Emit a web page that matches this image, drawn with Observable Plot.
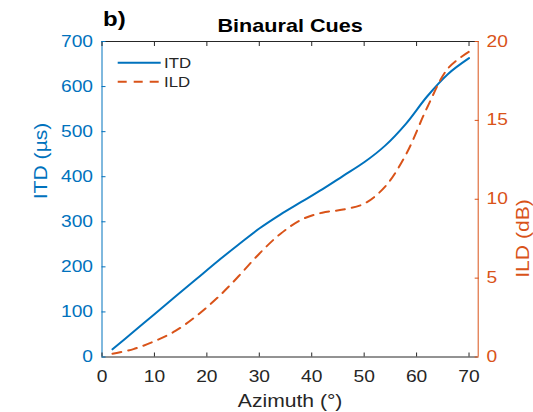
<!DOCTYPE html>
<html>
<head>
<meta charset="utf-8">
<script src="https://cdn.jsdelivr.net/npm/d3@7"></script>
<script src="https://cdn.jsdelivr.net/npm/@observablehq/plot@0.6"></script>
<style>
  html, body { margin: 0; padding: 0; background: #fff; }
  #chart { width: 533px; height: 412px; overflow: hidden; }
</style>
</head>
<body>
<div id="chart"></div>
<script>
// ---- data ----
const azimuth = [2, 6, 10, 14, 18, 22, 26, 30, 34, 38, 42, 46, 50, 54, 58, 62, 66, 70];
const itd = [17, 56, 95, 134, 173, 212, 249, 285, 316, 344, 372, 402, 432, 469, 518, 578, 628, 663];
const ild = [0.2, 0.5, 1.0, 1.65, 2.6, 3.75, 5.1, 6.55, 7.8, 8.7, 9.15, 9.35, 9.72, 10.8, 12.85, 15.8, 18.3, 19.35];

const xTicks = [0, 10, 20, 30, 40, 50, 60, 70];
const itdTicks = [0, 100, 200, 300, 400, 500, 600, 700];
const ildTicks = [0, 5, 10, 15, 20];
const xDomain = [0, 71.75];
const itdDomain = [0, 700];
const ildDomain = [0, 20];

const titleText = "Binaural Cues";
const panelText = "b)";
const xLabel = "Azimuth (°)";
const yLeftLabel = "ITD (µs)";
const yRightLabel = "ILD (dB)";
const seriesNames = ["ITD", "ILD"];

// ---- styling ----
const blue = "#0072BD";
const orange = "#D95319";
const dark = "#262626";
const font = "'Liberation Sans', Arial, Helvetica, sans-serif";
const k = itdDomain[1] / ildDomain[1]; // map ILD onto the ITD scale

const itdData = azimuth.map((a, i) => ({az: a, v: itd[i]}));
const ildData = azimuth.map((a, i) => ({az: a, v: ild[i] * k}));

const svg = Plot.plot({
  width: 533,
  height: 412,
  marginLeft: 101.5,
  marginRight: 55.3,
  marginTop: 41,
  marginBottom: 55.5,
  style: {fontFamily: font, fontSize: "16px", background: "#fff"},
  x: {domain: xDomain},
  y: {domain: itdDomain},
  marks: [
    // curves
    Plot.line(itdData, {x: "az", y: "v", stroke: blue, strokeWidth: 2, curve: "catmull-rom"}),
    Plot.line(ildData, {x: "az", y: "v", stroke: orange, strokeWidth: 2, strokeDasharray: "9,7", curve: "catmull-rom"}),
    // box lines
    Plot.ruleY([itdDomain[0]], {stroke: dark, strokeWidth: 1}),
    Plot.ruleY([itdDomain[1]], {stroke: dark, strokeWidth: 1}),
    Plot.ruleX([xDomain[0]], {stroke: blue, strokeWidth: 1}),
    Plot.ruleX([xDomain[1]], {stroke: orange, strokeWidth: 1}),
    // inward tick marks
    Plot.axisX({anchor: "bottom", ticks: xTicks, tickSize: -4, fill: "none", stroke: dark, label: null}),
    Plot.axisX({anchor: "top", ticks: xTicks, tickSize: -4, fill: "none", stroke: dark, label: null}),
    Plot.axisY({anchor: "left", ticks: itdTicks, tickSize: -4, fill: "none", stroke: blue, label: null}),
    Plot.axisY({anchor: "right", ticks: ildTicks.map(d => d * k), tickSize: -4, fill: "none", stroke: orange, label: null}),
    // tick labels
    Plot.axisX({anchor: "bottom", ticks: xTicks, tickSize: 0, tickPadding: 14, fill: dark, stroke: "none", label: null}),
    Plot.axisY({anchor: "left", ticks: itdTicks, tickSize: 0, tickPadding: 9, fill: blue, stroke: "none", label: null}),
    Plot.axisY({anchor: "right", ticks: ildTicks.map(d => d * k), tickFormat: d => String(Math.round(d / k)), tickSize: 0, tickPadding: 8.3, fill: orange, stroke: "none", label: null}),
    // axis labels, title
    Plot.text([xLabel], {text: d => d, frameAnchor: "bottom", dy: 50, lineAnchor: "bottom", fill: dark, fontSize: 17.6}),
    Plot.text([yLeftLabel], {text: d => d, frameAnchor: "left", dx: -55.5, rotate: -90, lineAnchor: "bottom", fill: blue, fontSize: 17.6}),
    Plot.text([yRightLabel], {text: d => d, frameAnchor: "right", dx: 50.3, rotate: -90, lineAnchor: "bottom", fill: orange, fontSize: 17.6}),
    Plot.text([titleText], {text: d => d, frameAnchor: "top", dy: -9.5, lineAnchor: "bottom", fill: "#000", fontSize: 18, fontWeight: "bold"}),
    Plot.text([panelText], {text: d => d, frameAnchor: "top-left", dx: 1, dy: -16, textAnchor: "start", lineAnchor: "bottom", fill: "#000", fontSize: 20, fontWeight: "bold"})
  ]
});

// legend (inside the axes, top-left)
const lg = d3.select(svg).append("g")
  .attr("font-family", font).attr("font-size", 14).attr("text-anchor", "start");
const legendRows = [
  {name: seriesNames[0], color: blue, dash: null, y: 62.7},
  {name: seriesNames[1], color: orange, dash: "9,7", y: 81.7}
];
legendRows.forEach(r => {
  lg.append("line").attr("x1", 117.7).attr("x2", 160.7).attr("y1", r.y).attr("y2", r.y)
    .attr("stroke", r.color).attr("stroke-width", 2).attr("stroke-dasharray", r.dash);
  lg.append("text").attr("transform", `translate(164,${r.y + 5.6})`)
    .attr("text-anchor", "start").attr("fill", dark).text(r.name);
});

// widen glyphs horizontally like the reference rendering
d3.select(svg).selectAll("text").each(function () {
  const t = this.getAttribute("transform") || "";
  this.setAttribute("transform", (t + " scale(1.2,1)").trim());
});

document.getElementById("chart").appendChild(svg);
</script>
</body>
</html>
